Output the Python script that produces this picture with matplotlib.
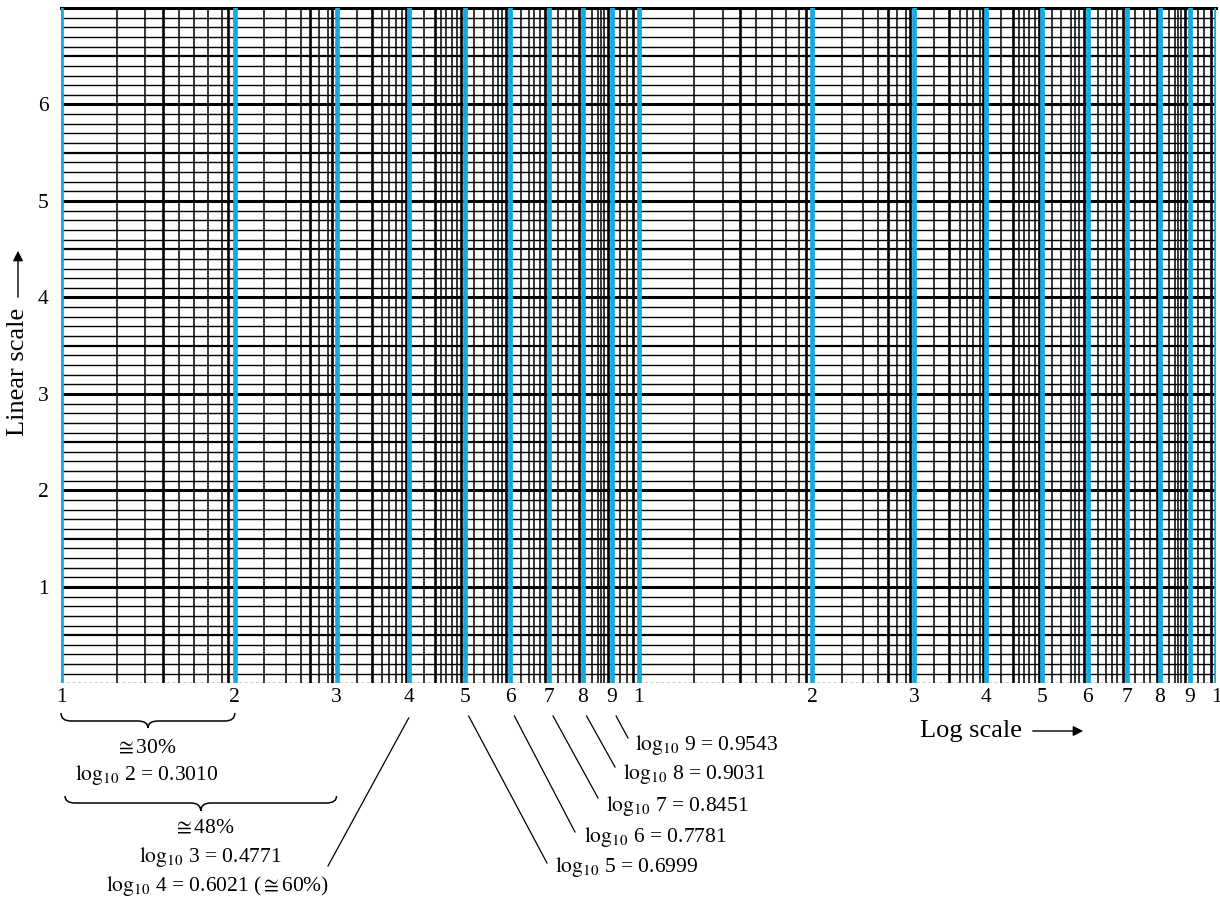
import matplotlib
matplotlib.use('Agg')
import matplotlib.pyplot as plt
from matplotlib.path import Path
from matplotlib.patches import PathPatch

plt.rcParams['font.family'] = ['Liberation Serif', 'DejaVu Serif']
plt.rcParams['mathtext.fontset'] = 'stix'

W, H = 1220, 899

# semilog paper: two decades on x, linear 0..7 on y
decades = [1, 10]
major = [1, 2, 3, 4, 5, 6, 7, 8, 9]
# minor vertical rulings (one decade)
minor = [1.25, 1.4, 1.5, 1.6, 1.7, 1.8, 1.9, 1.95,
         2.25, 2.45, 2.6, 2.7, 2.8, 2.9, 2.95,
         3.25, 3.45, 3.6, 3.7, 3.8, 3.9, 3.95,
         4.25, 4.45, 4.55, 4.65, 4.75, 4.85, 4.93,
         5.2, 5.4, 5.6, 5.7, 5.8, 5.9,
         6.25, 6.45, 6.6, 6.75, 6.9,
         7.25, 7.5, 7.7, 7.9,
         8.3, 8.5, 8.6, 8.7, 8.85,
         9.3, 9.55, 9.8]
heavy_minor = [1.5, 1.95, 2.7, 2.95, 3.45, 3.95, 4.45, 4.93,
               5.9, 6.9, 7.9, 8.85, 9.8]
y_ticks = [1, 2, 3, 4, 5, 6]
x_tick_labels = ['1', '2', '3', '4', '5', '6', '7', '8', '9'] * 2 + ['1']

# logarithm labels
digits = [5, 6, 7, 8, 9]
log_vals = ['0.6999', '0.7781', '0.8451', '0.9031', '0.9543']

fig = plt.figure(figsize=(W / 100, H / 100), dpi=100)
ax = fig.add_axes([61 / W, 1 - 683.4 / H, (1216 - 61) / W, (683.4 - 8) / H])
ax.set_xscale('log')
ax.set_xlim(1, 100)
ax.set_ylim(0, 7)

# horizontal rulings every 0.1
for i in range(1, 70):
    y = i / 10
    if i % 10 == 0:
        lw = 2.2
    elif i % 5 == 0:
        lw = 1.6
    else:
        lw = 1.0
    ax.axhline(y, color='black', lw=lw, zorder=1)
ax.axhline(0, color='black', lw=1.0, ls=(0, (2, 2)), zorder=1)

# vertical rulings
for d in decades:
    for m in minor:
        lw = 1.9 if m in heavy_minor else 1.1
        ax.axvline(m * d, color='black', lw=lw, zorder=2)

# blue lines at the integers
for d in decades:
    for m in major:
        ax.axvline(m * d, color='#17a9e1', lw=3.4, zorder=3)
ax.axvline(100, color='#17a9e1', lw=3.4, zorder=3)

xt = [m * d for d in decades for m in major] + [100]
ax.set_xticks(xt)
ax.set_xticklabels(x_tick_labels, fontsize=15.5)
ax.xaxis.set_minor_locator(matplotlib.ticker.NullLocator())
ax.set_yticks(y_ticks)
ax.set_yticklabels([str(v) for v in y_ticks], fontsize=15.5)
ax.tick_params(length=0)
ax.tick_params(axis='x', pad=3)
ax.tick_params(axis='y', pad=9)
for s in ['left', 'right', 'bottom']:
    ax.spines[s].set_visible(False)
ax.spines['top'].set_linewidth(2.2)


def fx(x):
    return x / W


def fy(y):
    return 1 - y / H


def data_px(v):
    return ax.transData.transform((v, 0))[0]


def brace(x0, x1, ytop, ymid, ytip):
    xm = (x0 + x1) / 2
    r = 10
    verts = [(x0, ytop), (x0, ymid), (x0 + r, ymid), (xm - r, ymid),
             (xm, ymid), (xm, ytip), (xm, ymid), (xm + r, ymid),
             (x1 - r, ymid), (x1, ymid), (x1, ytop)]
    codes = [Path.MOVETO, Path.CURVE3, Path.CURVE3, Path.LINETO,
             Path.CURVE3, Path.CURVE3, Path.CURVE3, Path.CURVE3,
             Path.LINETO, Path.CURVE3, Path.CURVE3]
    verts = [(fx(a), fy(b)) for a, b in verts]
    fig.patches.append(PathPatch(Path(verts, codes), fill=False, lw=1.1,
                                 ec='black', transform=fig.transFigure))


fs = 15.5
logt = r'$\mathrm{log}_{10}$'

brace(data_px(1), data_px(2), 713, 721, 728)
fig.text(fx(146), fy(748), r'$\cong$30%', fontsize=fs, ha='center', va='center')
fig.text(fx(147), fy(775), logt + ' 2 = 0.3010', fontsize=fs, ha='center', va='center')

brace(65, data_px(3), 796, 803, 811)
fig.text(fx(204), fy(828), r'$\cong$48%', fontsize=fs, ha='center', va='center')
fig.text(fx(210), fy(857), logt + ' 3 = 0.4771', fontsize=fs, ha='center', va='center')
fig.text(fx(218), fy(886), logt + r' 4 = 0.6021 ($\cong$60%)', fontsize=fs,
         ha='center', va='center')
fig.add_artist(plt.Line2D([fx(data_px(4)), fx(328)], [fy(718), fy(866)],
                          color='black', lw=0.9, transform=fig.transFigure))

# leader lines for 5..9
ends = [(547, 863), (575, 832), (598, 798), (615, 767), (628, 738)]
labels = [(555, 867), (584, 837), (606, 806), (623, 774), (635, 745)]
for n, v, e, t in zip(digits, log_vals, ends, labels):
    x0 = data_px(n) + 4
    fig.add_artist(plt.Line2D([fx(x0), fx(e[0])], [fy(716), fy(e[1])],
                              color='black', lw=0.9, transform=fig.transFigure))
    fig.text(fx(t[0]), fy(t[1]), logt + ' %d = %s' % (n, v), fontsize=fs,
             ha='left', va='center')

# axis captions with arrows
fig.text(fx(920), fy(731), 'Log scale', fontsize=19, ha='left', va='center')
fig.add_artist(matplotlib.patches.FancyArrowPatch(
    (fx(1030), fy(731)), (fx(1086), fy(731)), arrowstyle='-|>',
    mutation_scale=15, lw=1.0, color='black', transform=fig.transFigure))
fig.text(fx(18), fy(372), 'Linear scale', fontsize=19, rotation=90,
         ha='center', va='center')
fig.add_artist(matplotlib.patches.FancyArrowPatch(
    (fx(18), fy(300)), (fx(18), fy(248)), arrowstyle='-|>',
    mutation_scale=15, lw=1.0, color='black', transform=fig.transFigure))

fig.savefig('out.png', dpi=100)
